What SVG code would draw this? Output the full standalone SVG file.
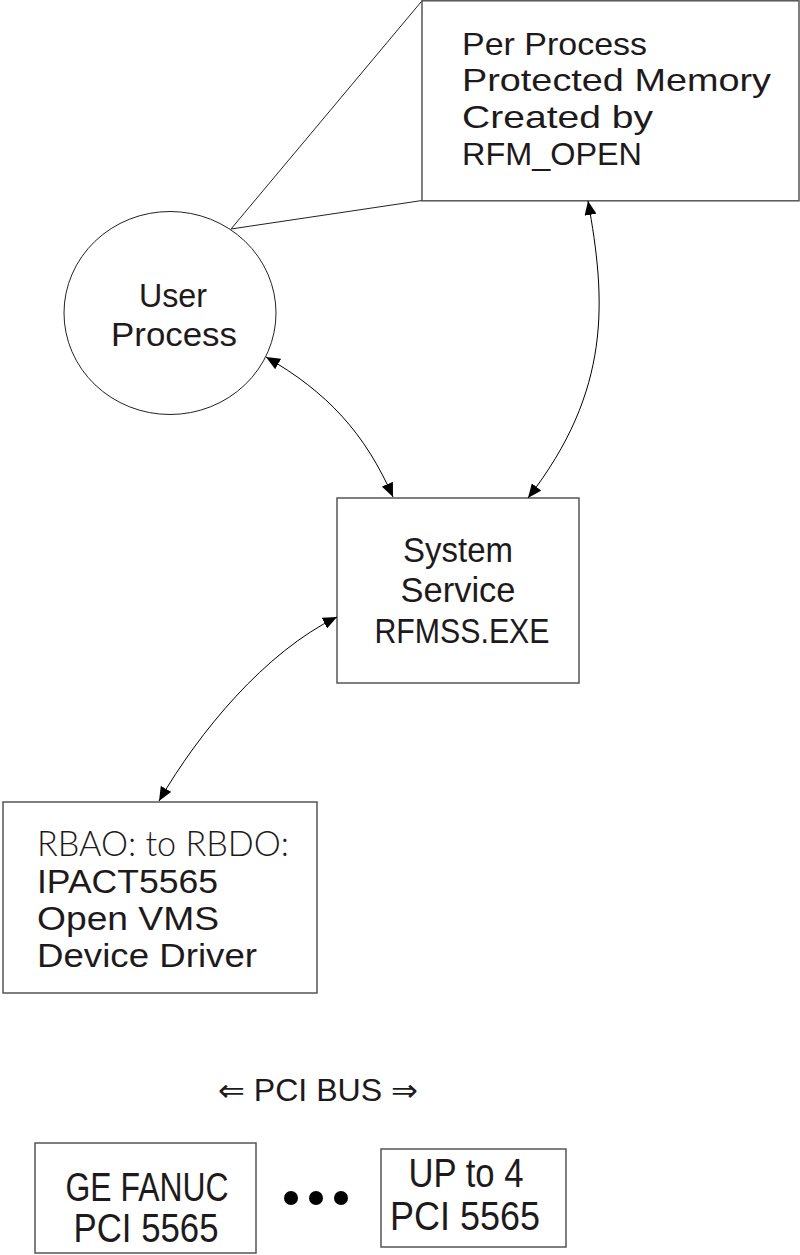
<svg xmlns="http://www.w3.org/2000/svg" width="800" height="1255" viewBox="0 0 800 1255">
  <defs>
    <!-- filled arrowhead used on both ends of the curved links -->
    <marker id="head" viewBox="0 0 14 12" refX="14" refY="6" markerWidth="14" markerHeight="12" markerUnits="userSpaceOnUse" orient="auto-start-reverse">
      <path d="M0,0 L14,6 L0,12 z" fill="#000"/>
    </marker>
  </defs>
  <style>
    .box { fill: #fff; stroke: #555; stroke-width: 1.5; }
    .t { font-family: "Liberation Sans", Arial, sans-serif; fill: #1e1a1b; }
    .thin { font-family: Lato, "DejaVu Sans", sans-serif; font-weight: 300; fill: #1e1a1b; }
    .link { fill: none; stroke: #000; stroke-width: 1; }
    .callout { fill: none; stroke: #222; stroke-width: 1; }
  </style>
  <rect width="800" height="1255" fill="#fff"/>

  <!-- callout from the process to its memory region -->
  <g id="callout">
    <path class="callout" d="M422,0.8 L231,229 M422,200.5 L231,229"/>
  </g>

  <g id="memory">
    <rect class="box" x="422" y="0.8" width="377" height="200"/>
    <text class="t" font-size="32" x="462" y="55" textLength="185" lengthAdjust="spacingAndGlyphs">Per Process</text>
    <text class="t" font-size="32" x="462" y="91" textLength="309" lengthAdjust="spacingAndGlyphs">Protected Memory</text>
    <text class="t" font-size="32" x="462" y="128" textLength="191" lengthAdjust="spacingAndGlyphs">Created by</text>
    <text class="t" font-size="32" x="462" y="165" textLength="180" lengthAdjust="spacingAndGlyphs">RFM_OPEN</text>
  </g>

  <g id="user-process">
    <ellipse cx="170" cy="313" rx="106" ry="101.5" fill="#fff" stroke="#222" stroke-width="1"/>
    <text class="t" font-size="33" x="173" y="307" text-anchor="middle" textLength="68" lengthAdjust="spacingAndGlyphs">User</text>
    <text class="t" font-size="33" x="174" y="346" text-anchor="middle" textLength="126" lengthAdjust="spacingAndGlyphs">Process</text>
  </g>

  <g id="system-service">
    <rect class="box" x="337" y="498" width="242" height="185"/>
    <text class="t" font-size="35" x="458" y="562" text-anchor="middle" textLength="110" lengthAdjust="spacingAndGlyphs">System</text>
    <text class="t" font-size="35" x="458" y="602" text-anchor="middle" textLength="115" lengthAdjust="spacingAndGlyphs">Service</text>
    <text class="t" font-size="35" x="462" y="643" text-anchor="middle" textLength="175" lengthAdjust="spacingAndGlyphs">RFMSS.EXE</text>
  </g>

  <g id="device-driver">
    <rect class="box" x="3" y="802" width="314" height="191"/>
    <text class="thin" font-size="35" x="37" y="856" textLength="252" lengthAdjust="spacingAndGlyphs">RBAO: to RBDO:</text>
    <text class="t" font-size="34" x="37" y="893" textLength="181" lengthAdjust="spacingAndGlyphs">IPACT5565</text>
    <text class="t" font-size="34" x="37" y="930" textLength="182" lengthAdjust="spacingAndGlyphs">Open VMS</text>
    <text class="t" font-size="34" x="37" y="967" textLength="220" lengthAdjust="spacingAndGlyphs">Device Driver</text>
  </g>

  <g id="pci-bus">
    <text class="t" font-size="31" x="218" y="1101" textLength="200" lengthAdjust="spacingAndGlyphs"><tspan font-family="'DejaVu Sans', sans-serif" font-weight="200">⇐</tspan> PCI BUS <tspan font-family="'DejaVu Sans', sans-serif" font-weight="200">⇒</tspan></text>
  </g>

  <g id="board-1">
    <rect class="box" x="35" y="1143" width="221" height="110"/>
    <text class="t" font-size="40" x="147" y="1201" text-anchor="middle" textLength="163" lengthAdjust="spacingAndGlyphs">GE FANUC</text>
    <text class="t" font-size="40" x="146" y="1242" text-anchor="middle" textLength="145" lengthAdjust="spacingAndGlyphs">PCI 5565</text>
  </g>

  <g id="ellipsis">
    <circle cx="291" cy="1198" r="7" fill="#000"/>
    <circle cx="316" cy="1198" r="7" fill="#000"/>
    <circle cx="341" cy="1198" r="7" fill="#000"/>
  </g>

  <g id="board-n">
    <rect class="box" x="381" y="1149" width="185" height="98"/>
    <text class="t" font-size="40" x="466" y="1187" text-anchor="middle" textLength="115" lengthAdjust="spacingAndGlyphs">UP to 4</text>
    <text class="t" font-size="40" x="465" y="1230" text-anchor="middle" textLength="150" lengthAdjust="spacingAndGlyphs">PCI 5565</text>
  </g>

  <g id="connectors">
    <path class="link" d="M266,357 C327,392 365,433 393,497" marker-start="url(#head)" marker-end="url(#head)"/>
    <path class="link" d="M588,201 C606,300 612,390 528,498" marker-start="url(#head)" marker-end="url(#head)"/>
    <path class="link" d="M337,617 C265,652 199,732 159,801" marker-start="url(#head)" marker-end="url(#head)"/>
  </g>
</svg>
